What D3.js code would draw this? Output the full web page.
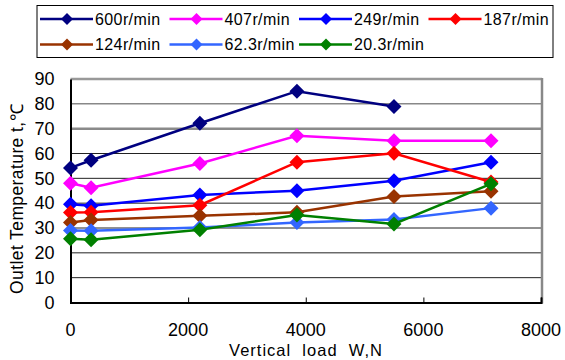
<!DOCTYPE html>
<html>
<head>
<meta charset="utf-8">
<script src="https://cdn.jsdelivr.net/npm/d3@7"></script>
<style>
  html, body { margin: 0; padding: 0; background: #fff; }
  svg { display: block; font-family: "Liberation Sans", Arial, sans-serif; }
</style>
</head>
<body>
<svg id="chart" width="565" height="360"></svg>
<script>
// Vertical load (N) at each measurement
const loads = [0, 350, 2200, 3850, 5500, 7150];

// Outlet temperature (°C) per rotational speed
const speedLabels = ["600r/min", "407r/min", "249r/min", "187r/min", "124r/min", "62.3r/min", "20.3r/min"];
const speedColors = ["#000080", "#ff00ff", "#0000ff", "#ff0000", "#993300", "#3366ff", "#008000"];
const t600  = [54.2, 57.3, 72.2, 85.1, 78.9, null];
const t407  = [48.0, 46.2, 56.0, 67.1, 65.1, 65.1];
const t249  = [39.6, 39.0, 43.3, 45.0, 49.0, 56.5];
const t187  = [36.2, 36.3, 39.2, 56.5, 60.1, 48.5];
const t124  = [32.2, 33.2, 34.9, 36.3, 42.7, 44.8];
const t62   = [29.0, 28.9, 30.2, 32.2, 33.4, 38.0];
const t20   = [25.7, 25.3, 29.3, 35.2, 31.6, 47.8];
const seriesValues = [t600, t407, t249, t187, t124, t62, t20];

const xTicks = [0, 2000, 4000, 6000, 8000];
const yTicks = [0, 10, 20, 30, 40, 50, 60, 70, 80, 90];

const svg = d3.select("#chart");
const plot = { left: 70.5, right: 542, top: 79, bottom: 302.5 };

const x = d3.scaleLinear().domain([0, 8000]).range([plot.left, plot.right - 1]);
const y = d3.scaleLinear().domain([0, 90]).range([plot.bottom, plot.top]);

// horizontal grid lines
const gridStyle = v => v === 90 ? { c: "#999", w: 2.5 } : v === 80 ? { c: "#888", w: 1.5 } : v === 70 ? { c: "#8a8a8a", w: 2.5 } : { c: "#222", w: 1 };
svg.append("g").selectAll("line")
  .data(yTicks.filter(v => v > 0))
  .join("line")
  .attr("x1", plot.left).attr("x2", plot.right)
  .attr("y1", d => y(d)).attr("y2", d => y(d))
  .attr("stroke", d => gridStyle(d).c)
  .attr("stroke-width", d => gridStyle(d).w);

// right frame edge
svg.append("line")
  .attr("x1", plot.right).attr("x2", plot.right)
  .attr("y1", plot.top - 1).attr("y2", plot.bottom + 1)
  .attr("stroke", "#888").attr("stroke-width", 2.5);

// x axis: ticks point inward, labels placed separately below
const xAxis = svg.append("g")
  .attr("transform", `translate(0,${plot.bottom})`)
  .call(d3.axisBottom(x).tickValues(xTicks).tickSize(-5).tickFormat(""));
xAxis.select(".domain").attr("stroke", "#000").attr("stroke-width", 2);
xAxis.selectAll(".tick line").attr("stroke", "#000").attr("stroke-width", 1);

svg.append("g").selectAll("text")
  .data(xTicks)
  .join("text")
  .attr("x", d => x(d)).attr("y", 336)
  .attr("text-anchor", "middle")
  .attr("font-size", 18)
  .attr("fill", "#000")
  .text(d => d);

// y axis
const yAxis = svg.append("g")
  .attr("transform", `translate(${plot.left},0)`)
  .call(d3.axisLeft(y).tickValues(yTicks).tickSize(0).tickPadding(16));
yAxis.select(".domain").attr("stroke", "#000").attr("stroke-width", 2);
yAxis.selectAll(".tick text").attr("font-size", 18).attr("fill", "#000")
  .attr("font-family", "Liberation Sans, Arial, sans-serif");

// axis titles
svg.append("text")
  .attr("transform", "translate(23,199) rotate(-90)")
  .attr("text-anchor", "middle")
  .attr("font-size", 17.5)
  .attr("letter-spacing", 0.4)
  .attr("fill", "#000")
  .text("Outlet Temperature t,\u2103");

svg.append("text")
  .attr("x", 306).attr("y", 356)
  .attr("text-anchor", "middle")
  .attr("font-size", 16.5)
  .attr("letter-spacing", 1)
  .attr("fill", "#000")
  .style("white-space", "pre")
  .attr("xml:space", "preserve")
  .text("Vertical  load  W,N");

// series lines and diamond markers
const diamondPath = (s) => { const r = s / 2; return `M0,${-r}L${r},0L0,${r}L${-r},0Z`; };

const line = d3.line()
  .defined(d => d.v != null)
  .x(d => x(d.load))
  .y(d => y(d.v));

speedLabels.forEach((label, i) => {
  const pts = loads.map((load, j) => ({ load, v: seriesValues[i][j] }));
  const g = svg.append("g");
  g.append("path")
    .attr("d", line(pts))
    .attr("fill", "none")
    .attr("stroke", speedColors[i])
    .attr("stroke-width", 2.5);
  g.selectAll("path.m")
    .data(pts.filter(d => d.v != null))
    .join("path")
    .attr("class", "m")
    .attr("transform", d => `translate(${x(d.load)},${y(d.v)})`)
    .attr("d", diamondPath(15))
    .attr("fill", speedColors[i]);
});

// legend
const legend = svg.append("g");
legend.append("rect")
  .attr("x", 37).attr("y", 5.5).attr("width", 516).attr("height", 52)
  .attr("fill", "#fff").attr("stroke", "#000").attr("stroke-width", 1);

speedLabels.forEach((label, i) => {
  const col = i < 4 ? i : i - 4;
  const row = i < 4 ? 0 : 1;
  const lx = 40 + col * 129.5;
  const ly = 19 + row * 25.5;
  const g = legend.append("g").attr("transform", `translate(${lx},${ly})`);
  g.append("line").attr("x1", 0).attr("x2", 53).attr("y1", 0).attr("y2", 0)
    .attr("stroke", speedColors[i]).attr("stroke-width", 2.5);
  g.append("path").attr("transform", "translate(27,0)")
    .attr("d", diamondPath(12)).attr("fill", speedColors[i]);
  g.append("text").attr("x", 55).attr("y", 0).attr("dy", "0.36em")
    .attr("font-size", 16).attr("letter-spacing", 0.4).attr("fill", "#000").text(label);
});
</script>
</body>
</html>
